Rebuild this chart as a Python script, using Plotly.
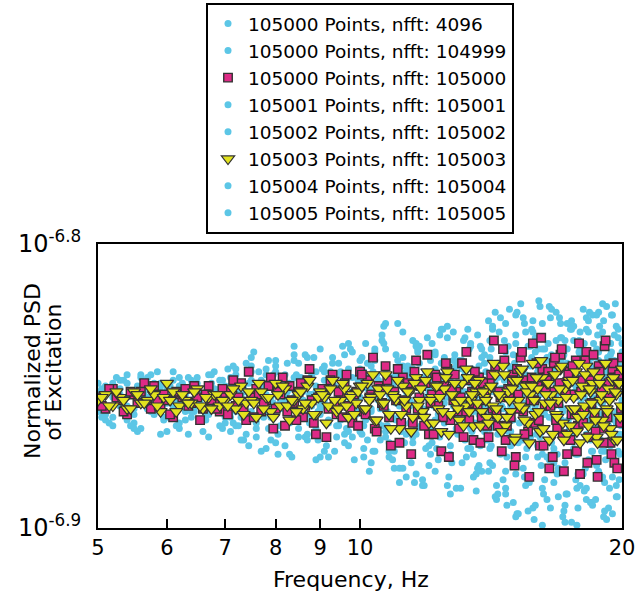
import numpy as np
import plotly.graph_objects as go

# Frequency bins (Hz) of the full-resolution PSD estimates
freq = [5.0, 5.1, 5.2, 5.3, 5.4, 5.5, 5.6, 5.7, 5.8, 5.9,
        6.0, 6.1, 6.2, 6.3, 6.4, 6.5, 6.6, 6.7, 6.8, 6.9,
        7.0, 7.1, 7.2, 7.3, 7.4, 7.5, 7.6, 7.7, 7.8, 7.9,
        8.0, 8.1, 8.2, 8.3, 8.4, 8.5, 8.6, 8.7, 8.8, 8.9,
        9.0, 9.1, 9.2, 9.3, 9.4, 9.5, 9.6, 9.7, 9.8, 9.9,
        10.0, 10.1, 10.2, 10.3, 10.4, 10.5, 10.6, 10.7, 10.8, 10.9,
        11.0, 11.1, 11.2, 11.3, 11.4, 11.5, 11.6, 11.7, 11.8, 11.9,
        12.0, 12.1, 12.2, 12.3, 12.4, 12.5, 12.6, 12.7, 12.8, 12.9,
        13.0, 13.1, 13.2, 13.3, 13.4, 13.5, 13.6, 13.7, 13.8, 13.9,
        14.0, 14.1, 14.2, 14.3, 14.4, 14.5, 14.6, 14.7, 14.8, 14.9,
        15.0, 15.1, 15.2, 15.3, 15.4, 15.5, 15.6, 15.7, 15.8, 15.9,
        16.0, 16.1, 16.2, 16.3, 16.4, 16.5, 16.6, 16.7, 16.8, 16.9,
        17.0, 17.1, 17.2, 17.3, 17.4, 17.5, 17.6, 17.7, 17.8, 17.9,
        18.0, 18.1, 18.2, 18.3, 18.4, 18.5, 18.6, 18.7, 18.8, 18.9,
        19.0, 19.1, 19.2, 19.3, 19.4, 19.5, 19.6, 19.7, 19.8, 19.9,
        20.0]

# Intermediate bins (Hz), used by the densest series
freq_mid = [5.05, 5.15, 5.25, 5.35, 5.45, 5.55, 5.65, 5.75, 5.85, 5.95,
            6.05, 6.15, 6.25, 6.35, 6.45, 6.55, 6.65, 6.75, 6.85, 6.95,
            7.05, 7.15, 7.25, 7.35, 7.45, 7.55, 7.65, 7.75, 7.85, 7.95,
            8.05, 8.15, 8.25, 8.35, 8.45, 8.55, 8.65, 8.75, 8.85, 8.95,
            9.05, 9.15, 9.25, 9.35, 9.45, 9.55, 9.65, 9.75, 9.85, 9.95,
            10.05, 10.15, 10.25, 10.35, 10.45, 10.55, 10.65, 10.75, 10.85, 10.95,
            11.05, 11.15, 11.25, 11.35, 11.45, 11.55, 11.65, 11.75, 11.85, 11.95,
            12.05, 12.15, 12.25, 12.35, 12.45, 12.55, 12.65, 12.75, 12.85, 12.95,
            13.05, 13.15, 13.25, 13.35, 13.45, 13.55, 13.65, 13.75, 13.85, 13.95,
            14.05, 14.15, 14.25, 14.35, 14.45, 14.55, 14.65, 14.75, 14.85, 14.95,
            15.05, 15.15, 15.25, 15.35, 15.45, 15.55, 15.65, 15.75, 15.85, 15.95,
            16.05, 16.15, 16.25, 16.35, 16.45, 16.55, 16.65, 16.75, 16.85, 16.95,
            17.05, 17.15, 17.25, 17.35, 17.45, 17.55, 17.65, 17.75, 17.85, 17.95,
            18.05, 18.15, 18.25, 18.35, 18.45, 18.55, 18.65, 18.75, 18.85, 18.95,
            19.05, 19.15, 19.25, 19.35, 19.45, 19.55, 19.65, 19.75, 19.85, 19.95]

# Frequency bins of the coarse (nfft 4096) estimate
freq_4096 = [5.0, 6.0, 7.0, 8.0, 9.0, 10.0, 11.0, 12.0, 13.0, 14.0,
             15.0, 16.0, 17.0, 18.0, 19.0, 20.0]

# log10 of the normalized PSD
log_4096 = [-6.854, -6.856, -6.855, -6.853, -6.857, -6.854, -6.855, -6.856,
            -6.853, -6.858, -6.854, -6.855, -6.857, -6.852, -6.856, -6.855]

log_104999 = [
    -6.852, -6.860, -6.854, -6.848, -6.857, -6.863, -6.851, -6.855, -6.858, -6.849,
    -6.866, -6.853, -6.850, -6.856, -6.861, -6.847, -6.854, -6.859, -6.852, -6.864,
    -6.850,
    -6.857, -6.846, -6.861, -6.852, -6.843, -6.865, -6.854, -6.859, -6.848, -6.870,
    -6.850, -6.855, -6.863, -6.841, -6.858, -6.849, -6.867, -6.853, -6.845, -6.860,
    -6.873, -6.851, -6.847, -6.856, -6.862, -6.839, -6.866, -6.852, -6.857, -6.844,
    -6.849, -6.869, -6.853, -6.837, -6.863, -6.856, -6.844, -6.875, -6.851, -6.846,
    -6.860, -6.831, -6.867, -6.855, -6.848, -6.881, -6.842, -6.858, -6.850, -6.871,
    -6.835, -6.862, -6.854, -6.866, -6.840, -6.885, -6.847, -6.857, -6.843, -6.864,
    -6.852, -6.833, -6.872, -6.849, -6.859, -6.845, -6.878, -6.855, -6.839, -6.861,
    -6.865, -6.830, -6.859, -6.847, -6.874, -6.841, -6.888, -6.853, -6.844, -6.862,
    -6.825, -6.870, -6.850, -6.879, -6.846, -6.857, -6.836, -6.893, -6.849, -6.843,
    -6.868, -6.828, -6.860, -6.875, -6.852, -6.839, -6.884, -6.845, -6.863, -6.833,
    -6.896, -6.851, -6.842, -6.866, -6.827, -6.872, -6.854, -6.881, -6.837, -6.861,
    -6.848, -6.890, -6.831, -6.858, -6.840, -6.876, -6.846, -6.824, -6.869, -6.853,
    -6.894, -6.844, -6.864, -6.835, -6.882, -6.850, -6.829, -6.873, -6.859, -6.838]

log_104999_mid = [
    -6.861, -6.852, -6.847, -6.857, -6.864, -6.850, -6.854, -6.859, -6.845, -6.862,
    -6.853, -6.856, -6.849, -6.867, -6.851, -6.855, -6.860, -6.846, -6.858, -6.848,
    -6.844, -6.863, -6.852, -6.869, -6.849, -6.838, -6.860, -6.854, -6.865, -6.846,
    -6.874, -6.851, -6.842, -6.857, -6.862, -6.847, -6.868, -6.853, -6.840, -6.859,
    -6.855, -6.871, -6.845, -6.850, -6.864, -6.836, -6.861, -6.854, -6.876, -6.848,
    -6.867, -6.835, -6.851, -6.873, -6.846, -6.858, -6.829, -6.864, -6.854, -6.879,
    -6.841, -6.850, -6.870, -6.844, -6.856, -6.884, -6.838, -6.853, -6.863, -6.833,
    -6.874, -6.848, -6.855, -6.868, -6.830, -6.860, -6.845, -6.877, -6.852, -6.842,
    -6.886, -6.847, -6.861, -6.837, -6.866, -6.854, -6.832, -6.871, -6.850, -6.858,
    -6.827, -6.871, -6.849, -6.885, -6.843, -6.857, -6.834, -6.892, -6.846, -6.852,
    -6.877, -6.824, -6.863, -6.840, -6.882, -6.851, -6.867, -6.830, -6.897, -6.848,
    -6.837, -6.860, -6.888, -6.841, -6.854, -6.826, -6.874, -6.845, -6.881, -6.850,
    -6.833, -6.894, -6.844, -6.862, -6.828, -6.869, -6.852, -6.886, -6.838, -6.856,
    -6.823, -6.879, -6.847, -6.842, -6.891, -6.835, -6.865, -6.851, -6.829, -6.873,
    -6.896, -6.846, -6.840, -6.861, -6.825, -6.876, -6.853, -6.889, -6.843, -6.864]

log_105000 = [
    -6.854, -6.858, -6.851, -6.855, -6.860, -6.853, -6.852, -6.856, -6.850, -6.857,
    -6.855, -6.861, -6.853, -6.851, -6.856, -6.854, -6.858, -6.850, -6.855, -6.859,
    -6.853,
    -6.852, -6.857, -6.849, -6.862, -6.854, -6.851, -6.859, -6.855, -6.847, -6.858,
    -6.853, -6.864, -6.850, -6.856, -6.852, -6.861, -6.848, -6.855, -6.867, -6.853,
    -6.851, -6.858, -6.846, -6.860, -6.854, -6.849, -6.857, -6.863, -6.852, -6.845,
    -6.859, -6.848, -6.853, -6.865, -6.850, -6.856, -6.843, -6.861, -6.852, -6.855,
    -6.870, -6.847, -6.858, -6.851, -6.863, -6.841, -6.854, -6.860, -6.849, -6.867,
    -6.853, -6.846, -6.857, -6.873, -6.850, -6.844, -6.862, -6.855, -6.852, -6.865,
    -6.842, -6.859, -6.848, -6.856, -6.869, -6.851, -6.847, -6.861, -6.853, -6.864,
    -6.849, -6.858, -6.843, -6.864, -6.854, -6.837, -6.869, -6.851, -6.861, -6.846,
    -6.875, -6.853, -6.840, -6.859, -6.848, -6.866, -6.855, -6.835, -6.863, -6.850,
    -6.871, -6.844, -6.857, -6.847, -6.879, -6.852, -6.842, -6.862, -6.856, -6.839,
    -6.867, -6.849, -6.874, -6.845, -6.860, -6.853, -6.841, -6.864, -6.881, -6.848,
    -6.858, -6.838, -6.868, -6.851, -6.846, -6.861, -6.876, -6.843, -6.854, -6.865,
    -6.836, -6.859, -6.849, -6.870, -6.844, -6.877, -6.852, -6.847, -6.863, -6.840]

log_105000_mid = [
    -6.857, -6.851, -6.854, -6.859, -6.852, -6.856, -6.849, -6.858, -6.855, -6.853,
    -6.860, -6.852, -6.854, -6.857, -6.850, -6.862, -6.853, -6.855, -6.858, -6.851,
    -6.860, -6.848, -6.854, -6.858, -6.845, -6.861, -6.853, -6.856, -6.850, -6.865,
    -6.852, -6.847, -6.859, -6.855, -6.862, -6.849, -6.857, -6.844, -6.863, -6.854,
    -6.851, -6.868, -6.848, -6.856, -6.852, -6.861, -6.846, -6.858, -6.853, -6.864,
    -6.846, -6.860, -6.854, -6.840, -6.866, -6.851, -6.857, -6.848, -6.871, -6.852,
    -6.844, -6.863, -6.855, -6.849, -6.874, -6.845, -6.858, -6.850, -6.864, -6.839,
    -6.856, -6.867, -6.847, -6.853, -6.861, -6.842, -6.875, -6.851, -6.846, -6.859,
    -6.854, -6.868, -6.838, -6.862, -6.852, -6.845, -6.857, -6.870, -6.849, -6.855,
    -6.868, -6.846, -6.834, -6.860, -6.852, -6.873, -6.841, -6.864, -6.854, -6.848,
    -6.878, -6.844, -6.858, -6.838, -6.867, -6.850, -6.882, -6.847, -6.855, -6.842,
    -6.862, -6.833, -6.871, -6.851, -6.845, -6.857, -6.875, -6.840, -6.865, -6.849,
    -6.837, -6.880, -6.853, -6.846, -6.869, -6.843, -6.860, -6.873, -6.835, -6.852,
    -6.863, -6.841, -6.877, -6.848, -6.856, -6.839, -6.866, -6.882, -6.845, -6.851,
    -6.870, -6.834, -6.861, -6.854, -6.874, -6.842, -6.850, -6.879, -6.846, -6.858]

log_105001 = [
    -6.859, -6.853, -6.849, -6.856, -6.862, -6.852, -6.846, -6.858, -6.855, -6.850,
    -6.861, -6.854, -6.865, -6.851, -6.848, -6.857, -6.853, -6.860, -6.845, -6.856,
    -6.863,
    -6.850, -6.864, -6.854, -6.842, -6.859, -6.868, -6.848, -6.853, -6.861, -6.845,
    -6.856, -6.871, -6.851, -6.847, -6.865, -6.855, -6.840, -6.862, -6.852, -6.858,
    -6.843, -6.875, -6.849, -6.857, -6.846, -6.867, -6.854, -6.838, -6.860, -6.851,
    -6.864, -6.842, -6.858, -6.873, -6.848, -6.834, -6.866, -6.853, -6.861, -6.839,
    -6.879, -6.850, -6.845, -6.857, -6.868, -6.836, -6.855, -6.883, -6.847, -6.852,
    -6.870, -6.844, -6.860, -6.830, -6.863, -6.854, -6.874, -6.841, -6.849, -6.858,
    -6.877, -6.846, -6.838, -6.865, -6.853, -6.887, -6.843, -6.856, -6.848, -6.869,
    -6.840, -6.878, -6.849, -6.864, -6.826, -6.858, -6.886, -6.843, -6.871, -6.851,
    -6.835, -6.895, -6.847, -6.856, -6.831, -6.867, -6.882, -6.852, -6.838, -6.862,
    -6.822, -6.874, -6.845, -6.890, -6.854, -6.842, -6.877, -6.849, -6.865, -6.828,
    -6.859, -6.892, -6.837, -6.868, -6.846, -6.834, -6.883, -6.853, -6.861, -6.841,
    -6.887, -6.830, -6.863, -6.844, -6.873, -6.855, -6.825, -6.880, -6.848, -6.870,
    -6.836, -6.897, -6.851, -6.839, -6.866, -6.832, -6.889, -6.846, -6.857, -6.843]

log_105002 = [
    -6.849, -6.857, -6.864, -6.851, -6.854, -6.860, -6.847, -6.858, -6.853, -6.867,
    -6.852, -6.848, -6.856, -6.859, -6.850, -6.855, -6.862, -6.846, -6.857, -6.851,
    -6.861,
    -6.866, -6.849, -6.853, -6.860, -6.840, -6.863, -6.855, -6.844, -6.869, -6.851,
    -6.858, -6.846, -6.874, -6.854, -6.842, -6.861, -6.848, -6.857, -6.865, -6.837,
    -6.855, -6.862, -6.850, -6.868, -6.845, -6.853, -6.871, -6.847, -6.859, -6.841,
    -6.872, -6.851, -6.843, -6.862, -6.855, -6.832, -6.868, -6.849, -6.876, -6.846,
    -6.857, -6.840, -6.882, -6.852, -6.844, -6.865, -6.836, -6.860, -6.854, -6.878,
    -6.847, -6.838, -6.867, -6.851, -6.859, -6.829, -6.871, -6.845, -6.886, -6.853,
    -6.841, -6.863, -6.856, -6.835, -6.874, -6.850, -6.846, -6.880, -6.842, -6.858,
    -6.877, -6.847, -6.824, -6.867, -6.852, -6.883, -6.838, -6.860, -6.845, -6.891,
    -6.832, -6.854, -6.869, -6.849, -6.885, -6.836, -6.864, -6.827, -6.857, -6.875,
    -6.844, -6.899, -6.848, -6.840, -6.861, -6.823, -6.872, -6.853, -6.880, -6.841,
    -6.858, -6.834, -6.888, -6.846, -6.867, -6.829, -6.850, -6.893, -6.839, -6.863,
    -6.854, -6.826, -6.876, -6.843, -6.892, -6.849, -6.837, -6.865, -6.856, -6.831,
    -6.884, -6.852, -6.841, -6.871, -6.825, -6.862, -6.879, -6.845, -6.868, -6.835]

log_105003 = [
    -6.855, -6.853, -6.857, -6.854, -6.858, -6.852, -6.856, -6.855, -6.853, -6.859,
    -6.849, -6.852, -6.857, -6.855, -6.856, -6.851, -6.858, -6.854, -6.853, -6.857,
    -6.855,
    -6.853, -6.858, -6.850, -6.856, -6.855, -6.861, -6.852, -6.854, -6.859, -6.849,
    -6.857, -6.851, -6.862, -6.855, -6.853, -6.858, -6.850, -6.856, -6.860, -6.852,
    -6.854, -6.857, -6.848, -6.859, -6.855, -6.851, -6.861, -6.853, -6.856, -6.850,
    -6.858, -6.849, -6.854, -6.862, -6.851, -6.856, -6.846, -6.860, -6.853, -6.855,
    -6.865, -6.850, -6.857, -6.852, -6.861, -6.847, -6.855, -6.859, -6.848, -6.863,
    -6.854, -6.850, -6.858, -6.866, -6.851, -6.845, -6.860, -6.853, -6.856, -6.862,
    -6.849, -6.857, -6.847, -6.855, -6.864, -6.852, -6.848, -6.859, -6.854, -6.861,
    -6.851, -6.857, -6.846, -6.861, -6.854, -6.843, -6.864, -6.852, -6.859, -6.848,
    -6.868, -6.855, -6.845, -6.858, -6.850, -6.863, -6.853, -6.842, -6.860, -6.851,
    -6.866, -6.847, -6.856, -6.849, -6.869, -6.853, -6.846, -6.860, -6.855, -6.844,
    -6.863, -6.851, -6.867, -6.848, -6.858, -6.854, -6.845, -6.861, -6.870, -6.850,
    -6.857, -6.843, -6.864, -6.852, -6.849, -6.859, -6.868, -6.847, -6.855, -6.862,
    -6.842, -6.858, -6.851, -6.865, -6.848, -6.869, -6.853, -6.849, -6.861, -6.844]

log_105003_mid = [
    -6.854, -6.857, -6.852, -6.855, -6.858, -6.853, -6.856, -6.851, -6.857, -6.854,
    -6.855, -6.859, -6.853, -6.856, -6.852, -6.857, -6.854, -6.858, -6.853, -6.855,
    -6.857, -6.851, -6.855, -6.860, -6.852, -6.856, -6.849, -6.858, -6.854, -6.861,
    -6.853, -6.850, -6.857, -6.855, -6.859, -6.852, -6.856, -6.848, -6.860, -6.854,
    -6.853, -6.863, -6.851, -6.855, -6.858, -6.849, -6.857, -6.854, -6.860, -6.852,
    -6.850, -6.858, -6.855, -6.846, -6.862, -6.853, -6.856, -6.851, -6.865, -6.854,
    -6.848, -6.860, -6.855, -6.852, -6.866, -6.849, -6.857, -6.851, -6.861, -6.845,
    -6.855, -6.863, -6.850, -6.854, -6.859, -6.847, -6.867, -6.853, -6.849, -6.858,
    -6.855, -6.864, -6.844, -6.859, -6.853, -6.849, -6.856, -6.864, -6.852, -6.855,
    -6.863, -6.850, -6.842, -6.858, -6.853, -6.866, -6.846, -6.861, -6.855, -6.851,
    -6.869, -6.848, -6.857, -6.844, -6.862, -6.852, -6.870, -6.850, -6.855, -6.847,
    -6.859, -6.841, -6.865, -6.853, -6.849, -6.856, -6.867, -6.846, -6.861, -6.851,
    -6.843, -6.869, -6.854, -6.849, -6.864, -6.848, -6.858, -6.866, -6.842, -6.853,
    -6.860, -6.846, -6.868, -6.851, -6.856, -6.845, -6.862, -6.870, -6.849, -6.853,
    -6.864, -6.842, -6.859, -6.855, -6.867, -6.847, -6.852, -6.869, -6.849, -6.857]

log_105004 = [
    -6.856, -6.850, -6.861, -6.853, -6.846, -6.858, -6.865, -6.854, -6.849, -6.859,
    -6.851, -6.857, -6.847, -6.862, -6.855, -6.852, -6.866, -6.850, -6.858, -6.848,
    -6.854,
    -6.847, -6.859, -6.869, -6.852, -6.845, -6.862, -6.850, -6.872, -6.854, -6.843,
    -6.857, -6.864, -6.849, -6.839, -6.868, -6.852, -6.860, -6.846, -6.876, -6.855,
    -6.848, -6.863, -6.842, -6.856, -6.851, -6.870, -6.844, -6.861, -6.853, -6.866,
    -6.845, -6.861, -6.877, -6.841, -6.854, -6.864, -6.837, -6.870, -6.850, -6.856,
    -6.884, -6.843, -6.852, -6.863, -6.834, -6.867, -6.848, -6.858, -6.872, -6.839,
    -6.855, -6.880, -6.846, -6.842, -6.861, -6.853, -6.875, -6.831, -6.865, -6.851,
    -6.844, -6.869, -6.857, -6.836, -6.882, -6.848, -6.860, -6.840, -6.866, -6.854,
    -6.834, -6.863, -6.889, -6.842, -6.851, -6.873, -6.828, -6.866, -6.857, -6.839,
    -6.881, -6.846, -6.821, -6.869, -6.850, -6.894, -6.843, -6.859, -6.833, -6.871,
    -6.853, -6.886, -6.837, -6.848, -6.876, -6.845, -6.862, -6.824, -6.879, -6.852,
    -6.840, -6.898, -6.846, -6.865, -6.830, -6.858, -6.874, -6.842, -6.885, -6.849,
    -6.835, -6.867, -6.827, -6.891, -6.854, -6.844, -6.878, -6.838, -6.860, -6.882,
    -6.847, -6.822, -6.870, -6.851, -6.895, -6.841, -6.863, -6.833, -6.874, -6.852]

log_105004_mid = [
    -6.851, -6.863, -6.855, -6.848, -6.858, -6.866, -6.852, -6.846, -6.856, -6.861,
    -6.850, -6.864, -6.854, -6.847, -6.859, -6.853, -6.862, -6.849, -6.855, -6.865,
    -6.858, -6.843, -6.864, -6.850, -6.871, -6.854, -6.845, -6.861, -6.841, -6.856,
    -6.867, -6.848, -6.852, -6.875, -6.846, -6.859, -6.839, -6.863, -6.853, -6.869,
    -6.844, -6.857, -6.849, -6.873, -6.842, -6.855, -6.865, -6.837, -6.860, -6.852,
    -6.840, -6.862, -6.880, -6.845, -6.853, -6.869, -6.835, -6.859, -6.847, -6.873,
    -6.828, -6.866, -6.855, -6.843, -6.877, -6.850, -6.837, -6.864, -6.885, -6.848,
    -6.841, -6.857, -6.872, -6.832, -6.861, -6.846, -6.882, -6.852, -6.839, -6.867,
    -6.849, -6.834, -6.875, -6.855, -6.844, -6.863, -6.879, -6.836, -6.858, -6.845,
    -6.880, -6.837, -6.852, -6.890, -6.831, -6.865, -6.848, -6.875, -6.823, -6.859,
    -6.842, -6.895, -6.845, -6.853, -6.828, -6.872, -6.884, -6.840, -6.850, -6.867,
    -6.820, -6.878, -6.847, -6.858, -6.835, -6.893, -6.843, -6.855, -6.874, -6.826,
    -6.862, -6.839, -6.888, -6.849, -6.830, -6.869, -6.854, -6.899, -6.834, -6.846,
    -6.881, -6.841, -6.861, -6.824, -6.873, -6.851, -6.890, -6.832, -6.864, -6.844,
    -6.827, -6.876, -6.853, -6.886, -6.838, -6.868, -6.821, -6.859, -6.883, -6.847]

log_105005 = [
    -6.853, -6.862, -6.851, -6.857, -6.849, -6.865, -6.855, -6.847, -6.860, -6.852,
    -6.856, -6.845, -6.863, -6.853, -6.859, -6.849, -6.857, -6.868, -6.851, -6.854,
    -6.860,
    -6.861, -6.844, -6.856, -6.867, -6.848, -6.852, -6.873, -6.846, -6.858, -6.841,
    -6.864, -6.853, -6.862, -6.836, -6.859, -6.855, -6.869, -6.847, -6.850, -6.875,
    -6.845, -6.857, -6.840, -6.864, -6.852, -6.861, -6.835, -6.868, -6.854, -6.848,
    -6.875, -6.847, -6.859, -6.838, -6.866, -6.852, -6.828, -6.873, -6.849, -6.862,
    -6.843, -6.879, -6.854, -6.846, -6.870, -6.835, -6.858, -6.885, -6.845, -6.851,
    -6.864, -6.839, -6.876, -6.849, -6.856, -6.833, -6.888, -6.844, -6.861, -6.841,
    -6.868, -6.852, -6.830, -6.872, -6.847, -6.881, -6.853, -6.837, -6.863, -6.850,
    -6.872, -6.829, -6.861, -6.888, -6.843, -6.851, -6.880, -6.836, -6.866, -6.847,
    -6.896, -6.840, -6.853, -6.826, -6.875, -6.848, -6.868, -6.831, -6.892, -6.845,
    -6.859, -6.837, -6.883, -6.850, -6.822, -6.870, -6.857, -6.834, -6.889, -6.842,
    -6.849, -6.877, -6.828, -6.864, -6.898, -6.844, -6.852, -6.874, -6.831, -6.862,
    -6.839, -6.886, -6.846, -6.869, -6.825, -6.858, -6.881, -6.841, -6.865, -6.821,
    -6.873, -6.849, -6.893, -6.835, -6.860, -6.843, -6.885, -6.830, -6.867, -6.856]

x_ticks = [5, 6, 7, 8, 9, 10, 20]
y_tick_exponents = [-6.9, -6.8]

CYAN = "#5cc6e6"
MAGENTA = "#de2a86"
YELLOW = "#e2e21e"
EDGE = "#333333"
FONT = "DejaVu Sans"


def psd(logs):
    return [10 ** v for v in logs]


fig = go.Figure()

cyan_series = [
    ("105000 Points, nfft: 4096", freq_4096, log_4096, 1),
    ("105000 Points, nfft: 104999", freq + freq_mid, log_104999 + log_104999_mid, 2),
    ("105001 Points, nfft: 105001", freq, log_105001, 4),
    ("105002 Points, nfft: 105002", freq, log_105002, 5),
    ("105004 Points, nfft: 105004", freq + freq_mid, log_105004 + log_105004_mid, 7),
    ("105005 Points, nfft: 105005", freq, log_105005, 8),
]
for name, fx, ly, rank in cyan_series:
    fig.add_trace(go.Scatter(
        x=fx, y=psd(ly), mode="markers", name=name, legendrank=rank,
        marker=dict(symbol="circle", size=7, color=CYAN, line=dict(width=0))))

fig.add_trace(go.Scatter(
    x=freq + freq_mid, y=psd(log_105000 + log_105000_mid), mode="markers",
    name="105000 Points, nfft: 105000", legendrank=3,
    marker=dict(symbol="square", size=8.5, color=MAGENTA, line=dict(width=1.4, color=EDGE))))

fig.add_trace(go.Scatter(
    x=freq + freq_mid, y=psd(log_105003 + log_105003_mid), mode="markers",
    name="105003 Points, nfft: 105003", legendrank=6,
    marker=dict(symbol="triangle-down", size=11.5, color=YELLOW, line=dict(width=1.2, color=EDGE))))

axis_common = dict(showline=True, linecolor="black", linewidth=2, mirror=True,
                   showgrid=False, zeroline=False, automargin=False)

fig.update_xaxes(type="log", range=[np.log10(5), np.log10(20)],
                 tickvals=x_ticks, ticktext=[str(t) for t in x_ticks],
                 ticks="inside", ticklen=9, tickwidth=2, tickcolor="black",
                 tickfont=dict(family=FONT, size=21, color="black"),
                 **axis_common)
fig.update_yaxes(type="log", range=y_tick_exponents,
                 tickvals=[10 ** e for e in y_tick_exponents],
                 ticktext=["10<sup>%g</sup>" % e for e in y_tick_exponents],
                 ticks="", ticklabelstandoff=10,
                 tickfont=dict(family=FONT, size=24, color="black"),
                 **axis_common)

fig.update_layout(
    width=636, height=595,
    margin=dict(l=98, r=14, t=244, b=67, autoexpand=False),
    paper_bgcolor="white", plot_bgcolor="white",
    font=dict(family=FONT, size=21, color="black"),
    showlegend=True,
    legend=dict(x=0.5, xanchor="center", y=1.8486, yanchor="top",
                bordercolor="black", borderwidth=2, bgcolor="white",
                font=dict(family=FONT, size=18.5, color="black"),
                traceorder="normal"),
    annotations=[
        dict(text="Normalized PSD", xref="paper", yref="paper",
             x=-0.124, y=0.553, xanchor="center", yanchor="middle",
             textangle=-90, showarrow=False, font=dict(family=FONT, size=22)),
        dict(text="of Excitation", xref="paper", yref="paper",
             x=-0.084, y=0.55, xanchor="center", yanchor="middle",
             textangle=-90, showarrow=False, font=dict(family=FONT, size=22)),
        dict(text="Frequency, Hz", xref="paper", yref="paper",
             x=0.483, y=-0.18, xanchor="center", yanchor="middle",
             showarrow=False, font=dict(family=FONT, size=22)),
    ],
)

fig.write_html("out.html")
